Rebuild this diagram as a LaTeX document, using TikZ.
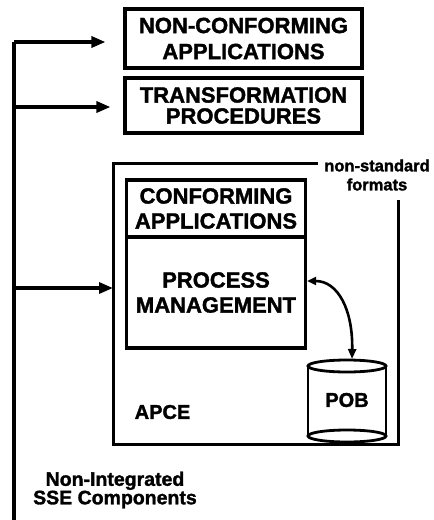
\documentclass[tikz,border=0pt]{standalone}
\usepackage{fontspec}
\setmainfont{Liberation Sans}[BoldFont={Liberation Sans Bold},BoldFeatures={FakeBold=1.6}]
\usetikzlibrary{arrows.meta}
\begin{document}
\begin{tikzpicture}[x=1pt,y=-1pt,line join=miter,
  box/.style={draw,line width=3.2pt,align=center,inner sep=0pt,
    font=\bfseries\fontsize{22}{26}\selectfont},
  lbl/.style={font=\bfseries\fontsize{20}{20}\selectfont,inner sep=0pt},
  conn/.style={line width=3.2pt,-{Triangle[length=14pt,width=11pt]}},
]
\useasboundingbox (0,0) rectangle (434,520);

% top boxes
\node[box,minimum width=237pt,minimum height=59pt] (nca) at (243.5,38.5)
  {NON-CONFORMING\\APPLICATIONS};
\node[box,minimum width=237pt,minimum height=55pt,
  font=\bfseries\fontsize{22}{21}\selectfont] (tp) at (243.5,105.5)
  {TRANSFORMATION\\PROCEDURES};

% APCE frame
\coordinate (apceNW) at (113,163);
\coordinate (apceSW) at (113,444);
\coordinate (apceSE) at (398,444);
\coordinate (frameEnd) at (318,163);
\coordinate (rightStart) at (398,200);
\node[font=\bfseries\fontsize{16.5}{19}\selectfont,align=center,inner sep=0pt]
  (nsf) at (377,175) {non-standard\\formats};
\draw[line width=3pt] (frameEnd) -- (apceNW) -- (apceSW) -- (apceSE) -- (rightStart);

% inner boxes
\node[box,minimum width=179pt,minimum height=57pt,
  font=\bfseries\fontsize{22}{25}\selectfont] (ca) at (216,208.5)
  {CONFORMING\\APPLICATIONS};
\node[box,minimum width=179pt,minimum height=111pt,
  font=\bfseries\fontsize{22}{25}\selectfont] (pm) at (216,292.5)
  {PROCESS\\MANAGEMENT};

% cylinder POB
\draw[line width=2.8pt] (308,366) -- (308,436) (386,366) -- (386,436);
\draw[line width=2.8pt] (347,366) ellipse [x radius=39pt,y radius=6pt];
\draw[line width=2.8pt] (347,436) ellipse [x radius=39pt,y radius=6pt];
\node[lbl] (pob) at (347,400) {POB};
\coordinate (cyltop) at (352,359);

\node[lbl] (apce) at (162.5,412) {APCE};

% bus line and arrows
\coordinate (vtop) at (14,42);
\coordinate (vbot) at (14,520);
\coordinate (v2) at (14,107);
\coordinate (v3) at (12,288);
\coordinate (apceW) at (113,288);
\draw[line width=3.4pt] (vtop) -- (vbot);
\draw[conn] (vtop) -- ([xshift=-18pt]nca.west |- vtop);
\draw[conn] (v2) -- ([xshift=-13pt]tp.west |- v2);
\draw[conn] (v3) -- (apceW);

% curved double arrow
\draw[line width=2.6pt,{Triangle[length=9pt,width=8pt]}-{Triangle[length=10pt,width=8pt]}]
  ([yshift=11.5pt]pm.east) .. controls (338,281) and (353,310) .. (cyltop);

\node[font=\bfseries\fontsize{19.5}{18.5}\selectfont,align=center,inner sep=0pt]
  (nisse) at (115,490) {Non-Integrated\\SSE Components};
\end{tikzpicture}
\end{document}
